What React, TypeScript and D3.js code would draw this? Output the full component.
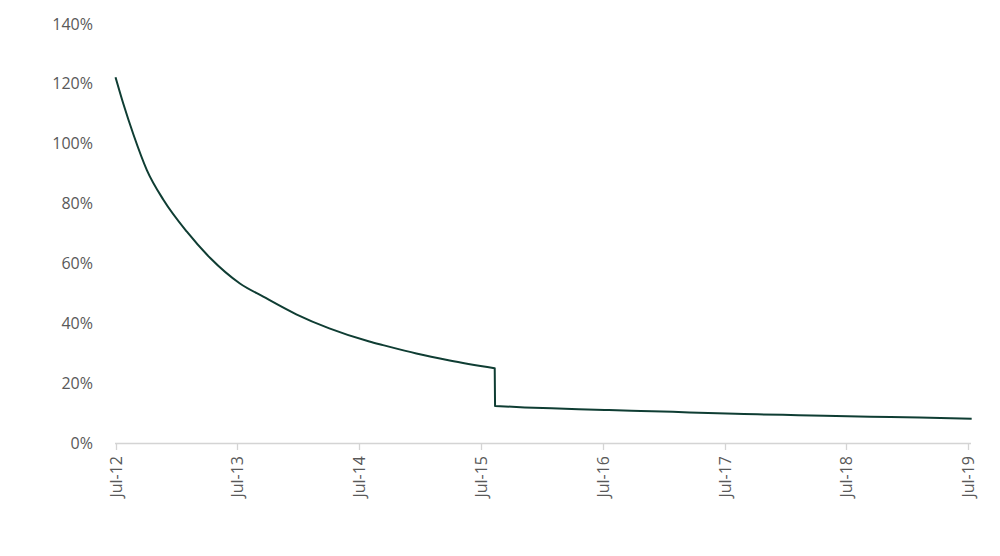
import React from "react";
import * as d3 from "d3";

const dates: string[] = [
  "2012-07-01", "2012-07-24", "2012-08-24", "2012-10-03", "2012-11-22",
  "2013-01-31", "2013-04-11", "2013-07-09", "2013-09-17", "2013-12-25",
  "2014-04-03", "2014-08-01", "2014-09-11", "2014-12-20", "2015-03-30",
  "2015-08-12", "2015-08-13", "2015-11-10", "2016-01-29", "2016-04-19",
  "2016-07-19", "2016-10-23", "2017-01-27", "2017-05-13", "2017-08-28",
  "2017-12-23", "2018-04-27", "2018-09-11", "2019-02-06", "2019-07-12",
];
const values: number[] = [
  122.2, 113.5, 103.0, 91.2, 81.2,
  70.6, 61.8, 53.3, 48.9, 43.0,
  38.3, 33.9, 32.7, 29.9, 27.6,
  25.0, 12.4, 11.9, 11.6, 11.3,
  11.0, 10.7, 10.4, 10.0, 9.7,
  9.4, 9.1, 8.8, 8.5, 8.1,
];
const dropDate = "2015-08-13";
const yTicks: number[] = [0, 20, 40, 60, 80, 100, 120, 140];
const xTickLabels: string[] = ["Jul-12", "Jul-13", "Jul-14", "Jul-15", "Jul-16", "Jul-17", "Jul-18", "Jul-19"];
const xTickDates: string[] = ["2012-07-01", "2013-07-01", "2014-07-01", "2015-07-01", "2016-07-01", "2017-07-01", "2018-07-01", "2019-07-01"];

export default function App() {
  const W = 1000, H = 556;
  const parse = d3.timeParse("%Y-%m-%d");
  const x = d3.scaleTime()
    .domain([parse("2012-07-01")!, parse("2019-07-01")!])
    .range([115.5, 968]);
  const y = d3.scaleLinear().domain([0, 140]).range([443, 24]);
  const data = dates.map((d, i) => ({ date: parse(d)!, v: values[i] }));
  const cut = dates.indexOf(dropDate);
  const pre = data.slice(0, cut);
  const post = data.slice(cut);
  const line = d3.line<{ date: Date; v: number }>()
    .x((d) => x(d.date))
    .y((d) => y(d.v))
    .curve(d3.curveMonotoneX);
  const d1 = line(pre) || "";
  const d2 = (line(post) || "").replace(/^M/, "L");
  const font = "'Open Sans', sans-serif";
  const axisColor = "#d4d4d4";
  const textColor = "#595959";
  return (
    <svg width={W} height={H} style={{ position: "absolute", left: 0, top: 0, display: "block" }}>
      <rect width={W} height={H} fill="#fff" />
      {yTicks.map((t) => (
        <text key={t} x={93} y={y(t)} dy="0.35em" textAnchor="end"
          fontFamily={font} fontSize={16} fill={textColor}>{t}%</text>
      ))}
      <line x1={115} x2={971} y1={443.5} y2={443.5} stroke={axisColor} strokeWidth={1.3} />
      {xTickDates.map((d, i) => {
        const xp = Math.round(x(parse(d)!)) + 0.5;
        return (
          <g key={d}>
            <line x1={xp} x2={xp} y1={443} y2={450} stroke={axisColor} strokeWidth={1.3} />
            <text transform={`translate(${xp},456) rotate(-90)`} dy="0.35em" textAnchor="end"
              fontFamily={font} fontSize={16} fill={textColor}>{xTickLabels[i]}</text>
          </g>
        );
      })}
      <path d={d1 + d2} fill="none" stroke="#0f3d33" strokeWidth={2} strokeLinejoin="round" />
    </svg>
  );
}
